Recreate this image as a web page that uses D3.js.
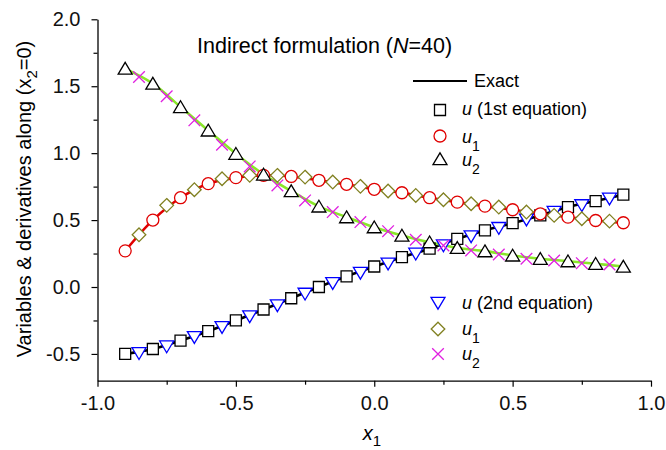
<!DOCTYPE html>
<html>

<head>
    <meta charset="utf-8" />
    <style>
        body {
            margin: 0;
            background-color: white;
        }

        text {
            font-family: "Liberation Sans", Arial, sans-serif;
        }
    </style>

    <script src="https://d3js.org/d3.v7.min.js"></script>
</head>

<body>
    <script>
        // grid points (x1) of the two sets of markers
        var xMain = [-0.9, -0.8, -0.7, -0.6, -0.5, -0.4, -0.3, -0.2, -0.1, 0.0, 0.1, 0.2, 0.3, 0.4, 0.5, 0.6, 0.7, 0.8, 0.9];
        var xAlt = [-0.85, -0.75, -0.65, -0.55, -0.45, -0.35, -0.25, -0.15, -0.05, 0.05, 0.15, 0.25, 0.35, 0.45, 0.55, 0.65, 0.75, 0.85];

        // exact solution
        var exactU = [-0.50, -0.463, -0.40, -0.33, -0.25, -0.168, -0.084, 0.0, 0.08, 0.153, 0.223, 0.286, 0.36, 0.423, 0.477, 0.535, 0.597, 0.642, 0.69];
        var exactU1 = [0.27, 0.50, 0.667, 0.772, 0.817, 0.834, 0.826, 0.797, 0.767, 0.73, 0.704, 0.667, 0.634, 0.604, 0.577, 0.547, 0.522, 0.497, 0.48];
        var exactU2 = [1.632, 1.52, 1.345, 1.17, 0.996, 0.841, 0.717, 0.602, 0.522, 0.447, 0.385, 0.335, 0.293, 0.268, 0.236, 0.211, 0.193, 0.174, 0.153];

        // 1st equation markers
        var uEq1 = [-0.50, -0.463, -0.40, -0.33, -0.25, -0.168, -0.084, 0.0, 0.08, 0.153, 0.223, 0.286, 0.36, 0.423, 0.477, 0.535, 0.597, 0.642, 0.69];
        var u1Eq1 = [0.27, 0.50, 0.667, 0.772, 0.817, 0.834, 0.826, 0.797, 0.767, 0.73, 0.704, 0.667, 0.634, 0.604, 0.577, 0.547, 0.522, 0.497, 0.48];
        var u2Eq1 = [1.632, 1.52, 1.345, 1.17, 0.996, 0.841, 0.717, 0.602, 0.522, 0.447, 0.385, 0.335, 0.293, 0.268, 0.236, 0.211, 0.193, 0.174, 0.153];

        // 2nd equation markers
        var uEq2 = [-0.495, -0.445, -0.375, -0.30, -0.22, -0.138, -0.051, 0.028, 0.105, 0.174, 0.248, 0.31, 0.378, 0.44, 0.503, 0.56, 0.61, 0.66];
        var u1Eq2 = [0.39, 0.61, 0.727, 0.809, 0.834, 0.834, 0.821, 0.784, 0.752, 0.717, 0.684, 0.652, 0.622, 0.597, 0.56, 0.535, 0.51, 0.492];
        var u2Eq2 = [1.569, 1.425, 1.245, 1.063, 0.901, 0.759, 0.647, 0.56, 0.485, 0.417, 0.353, 0.31, 0.273, 0.243, 0.211, 0.198, 0.178, 0.168];

        var xTicks = [-1.0, -0.5, 0.0, 0.5, 1.0];
        var xMinor = [-0.75, -0.25, 0.25, 0.75];
        var yTicks = [-0.5, 0.0, 0.5, 1.0, 1.5, 2.0];
        var yMinor = [-0.25, 0.25, 0.75, 1.25, 1.75];

        var width = 666,
            height = 450;

        var x = d3.scaleLinear().domain([-1, 1]).range([97.5, 651]);
        var y = d3.scaleLinear().domain([-0.7, 2.0]).range([380.7, 19.3]);

        // plain hyphen for negatives, like the original
        var fmt = function (d) { return d3.format(".1f")(d).replace("\u2212", "-"); };

        var svg = d3.select("body").append("svg")
            .attr("width", width)
            .attr("height", height);

        // axes
        var xAxis = svg.append("g")
            .attr("transform", "translate(0," + y(-0.7) + ")")
            .call(d3.axisBottom(x).tickValues(xTicks).tickSize(6).tickSizeOuter(0).tickFormat(fmt));
        svg.append("g")
            .attr("transform", "translate(0," + y(-0.7) + ")")
            .call(d3.axisBottom(x).tickValues(xMinor).tickSize(4).tickSizeOuter(0).tickFormat(""))
            .select(".domain").remove();

        var yAxis = svg.append("g")
            .attr("transform", "translate(" + x(-1) + ",0)")
            .call(d3.axisLeft(y).tickValues(yTicks).tickSize(6).tickSizeOuter(0).tickFormat(fmt));
        svg.append("g")
            .attr("transform", "translate(" + x(-1) + ",0)")
            .call(d3.axisLeft(y).tickValues(yMinor).tickSize(4).tickSizeOuter(0).tickFormat(""))
            .select(".domain").remove();

        svg.selectAll(".domain").attr("stroke-width", 1.3);
        svg.selectAll(".tick line").attr("stroke-width", 1.2);
        svg.selectAll(".tick text")
            .attr("font-size", 20)
            .attr("fill", "#111")
            .style("font-family", "'Liberation Sans', Arial, sans-serif");
        xAxis.selectAll(".tick text").attr("y", 15);
        yAxis.selectAll(".tick text").attr("x", -17);

        // axis titles
        var xl = svg.append("text")
            .attr("x", 372)
            .attr("y", 440)
            .attr("font-size", 20)
            .attr("text-anchor", "middle");
        xl.append("tspan").attr("font-style", "italic").text("x");
        xl.append("tspan").attr("font-size", 15).attr("dy", 6).text("1");

        var yl = svg.append("text")
            .attr("transform", "translate(31,199)rotate(-90)")
            .attr("font-size", 20)
            .attr("text-anchor", "middle");
        yl.append("tspan").text("Variables & derivatives along (x");
        yl.append("tspan").attr("font-size", 15).attr("dy", 6).text("2");
        yl.append("tspan").attr("dy", -6).text("=0)");

        // title
        var title = svg.append("text")
            .attr("x", 197)
            .attr("y", 53)
            .attr("font-size", 21.5);
        title.append("tspan").text("Indirect formulation (");
        title.append("tspan").attr("font-style", "italic").text("N");
        title.append("tspan").text("=40)");

        // exact lines
        function exactLine(vals, color) {
            var line = d3.line()
                .x(function (d, i) { return x(xMain[i]); })
                .y(function (d) { return y(d); })
                .curve(d3.curveCatmullRom);
            svg.append("path")
                .attr("d", line(vals))
                .attr("fill", "none")
                .attr("stroke", color)
                .attr("stroke-width", 2.6);
        }
        exactLine(exactU, "black");
        exactLine(exactU1, "#e00000");
        exactLine(exactU2, "#8ae62a");

        // marker shapes, centred at 0,0
        var shapes = {
            square: "M-5.5,-5.5H5.5V5.5H-5.5Z",
            circle: "M6,0A6,6 0 1,1 -6,0A6,6 0 1,1 6,0Z",
            up: "M0,-6.2L7,5.6H-7Z",
            down: "M0,6.2L7,-5.6H-7Z",
            diamond: "M0,-6.8L6.8,0L0,6.8L-6.8,0Z",
            cross: "M-5.8,-5.8L5.8,5.8M-5.8,5.8L5.8,-5.8"
        };

        function markers(xs, vals, shape, color) {
            svg.append("g").selectAll("path")
                .data(vals)
                .enter().append("path")
                .attr("transform", function (d, i) { return "translate(" + x(xs[i]) + "," + y(d) + ")"; })
                .attr("d", shapes[shape])
                .attr("fill", shape == "cross" ? "none" : "white")
                .attr("stroke", color)
                .attr("stroke-width", 1.3);
        }
        markers(xMain, uEq1, "square", "black");
        markers(xMain, u1Eq1, "circle", "#e00000");
        markers(xMain, u2Eq1, "up", "black");
        markers(xAlt, uEq2, "down", "#0000ff");
        markers(xAlt, u1Eq2, "diamond", "#808020");
        markers(xAlt, u2Eq2, "cross", "#e020e0");

        // legends
        svg.append("line")
            .attr("x1", 413).attr("x2", 467)
            .attr("y1", 81).attr("y2", 81)
            .attr("stroke", "black")
            .attr("stroke-width", 2.2);
        svg.append("text").attr("x", 474).attr("y", 87).attr("font-size", 18).text("Exact");

        function legendItem(mx, my, shape, color, tx, ty, sub, rest) {
            svg.append("path")
                .attr("transform", "translate(" + mx + "," + my + ")")
                .attr("d", shapes[shape])
                .attr("fill", shape == "cross" ? "none" : "white")
                .attr("stroke", color)
                .attr("stroke-width", 1.3);
            var t = svg.append("text").attr("x", tx).attr("y", ty).attr("font-size", 18);
            t.append("tspan").attr("font-style", "italic").text("u");
            if (sub) t.append("tspan").attr("font-size", 14).attr("dy", 8).text(sub);
            if (rest) t.append("tspan").text(rest);
        }
        legendItem(440, 110, "square", "black", 462, 115, null, " (1st equation)");
        legendItem(440, 136, "circle", "#e00000", 462, 143, "1", null);
        legendItem(440, 159, "up", "black", 462, 166, "2", null);

        legendItem(438, 303, "down", "#0000ff", 462, 309, null, " (2nd equation)");
        legendItem(438, 329, "diamond", "#808020", 462, 335, "1", null);
        legendItem(438, 354, "cross", "#e020e0", 462, 360, "2", null);
    </script>
</body>

</html>
